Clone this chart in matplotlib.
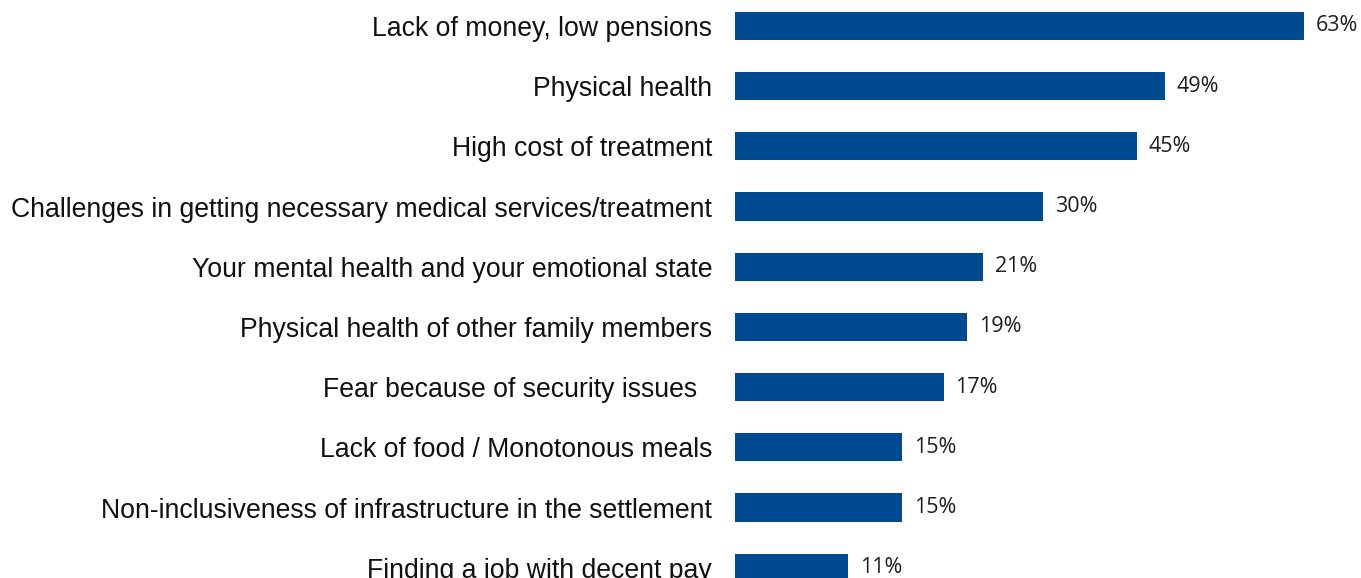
import matplotlib.pyplot as plt

categories = [
    "Lack of money, low pensions",
    "Physical health",
    "High cost of treatment",
    "Challenges in getting necessary medical services/treatment",
    "Your mental health and your emotional state",
    "Physical health of other family members",
    "Fear because of security issues  ",
    "Lack of food / Monotonous meals",
    "Non-inclusiveness of infrastructure in the settlement",
    "Finding a job with decent pay",
]
# printed values
value_labels = ["63%", "49%", "45%", "30%", "21%", "19%", "17%", "15%", "15%", "11%"]
# bar lengths as drawn in the original (not proportional to the printed values)
bar_lengths = [63, 47.6, 44.5, 34.1, 27.5, 25.7, 23.1, 18.5, 18.5, 12.5]

bar_color = "#004A91"

fig = plt.figure(figsize=(13.61, 5.78), dpi=100)
ax = fig.add_axes([735 / 1361, 0, 1 - 735 / 1361, 1])

pos = list(range(len(categories)))
ax.barh(pos, bar_lengths, height=0.47, color=bar_color)

for p, v, lab in zip(pos, bar_lengths, value_labels):
    ax.annotate(lab, xy=(v, p), xytext=(8.5, 0), textcoords="offset points",
                va="center", ha="left", fontsize=15.5, color="#1e1e1e",
                family="Open Sans")

ax.set_yticks(pos)
ax.set_yticklabels(categories, fontsize=19.2, family="Liberation Sans", color="#111111")
ax.tick_params(axis="y", length=0, pad=16.5)
ax.set_xticks([])
ax.set_xlim(0, 69.3)
ax.set_ylim(9.17, -0.43)
for s in ax.spines.values():
    s.set_visible(False)

fig.savefig("out.png", dpi=100)
